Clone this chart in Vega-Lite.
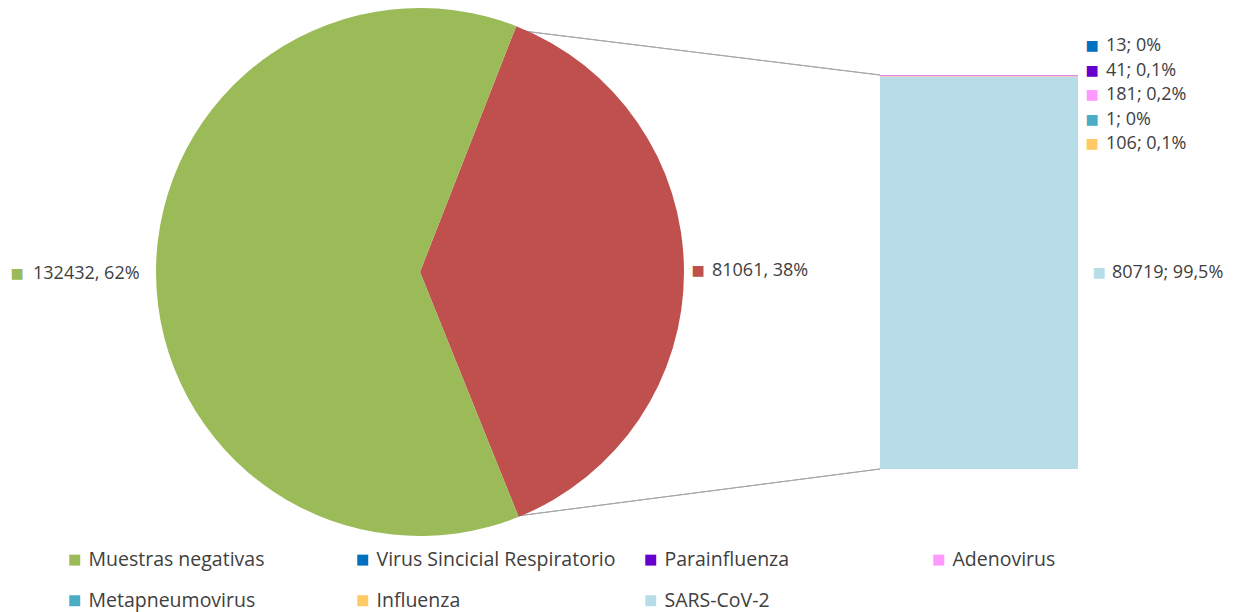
{
  "$schema": "https://vega.github.io/schema/vega-lite/v6.json",
  "width": 1233,
  "height": 612,
  "autosize": {"type": "fit", "contains": "padding"},
  "padding": 0,
  "background": "white",
  "config": {"view": {"stroke": null}, "font": "Open Sans"},
  "datasets": {
    "pastel": [
      {"categoria": "Positivas", "muestras": 81061, "orden": 1, "etiqueta": "81061, 38%"},
      {"categoria": "Muestras negativas", "muestras": 132432, "orden": 2, "etiqueta": "132432, 62%"}
    ],
    "barra": [
      {"grupo": "Positivas", "categoria": "SARS-CoV-2", "muestras": 80719, "orden": 1, "etiqueta": "80719; 99,5%"},
      {"grupo": "Positivas", "categoria": "Influenza", "muestras": 106, "orden": 2, "etiqueta": "106; 0,1%"},
      {"grupo": "Positivas", "categoria": "Metapneumovirus", "muestras": 1, "orden": 3, "etiqueta": "1; 0%"},
      {"grupo": "Positivas", "categoria": "Adenovirus", "muestras": 181, "orden": 4, "etiqueta": "181; 0,2%"},
      {"grupo": "Positivas", "categoria": "Parainfluenza", "muestras": 41, "orden": 5, "etiqueta": "41; 0,1%"},
      {"grupo": "Positivas", "categoria": "Virus Sincicial Respiratorio", "muestras": 13, "orden": 6, "etiqueta": "13; 0%"}
    ]
  },
  "layer": [
    {
      "data": {"name": "pastel"},
      "mark": {"type": "rule", "color": "#A6A6A6", "strokeWidth": 1},
      "encoding": {"x": {"value": 515}, "y": {"value": 30}, "x2": {"value": 880}, "y2": {"value": 75}}
    },
    {
      "data": {"name": "pastel"},
      "mark": {"type": "rule", "color": "#A6A6A6", "strokeWidth": 1},
      "encoding": {"x": {"value": 517}, "y": {"value": 516}, "x2": {"value": 880}, "y2": {"value": 469}}
    },
    {
      "data": {"name": "pastel"},
      "mark": {"type": "arc", "x": 420, "y": 272, "outerRadius": 264},
      "encoding": {
        "theta": {"field": "muestras", "type": "quantitative", "stack": true, "scale": {"range": [0.373, 6.656]}},
        "order": {"field": "orden", "type": "quantitative"},
        "color": {
          "field": "categoria",
          "type": "nominal",
          "scale": {
            "domain": ["Muestras negativas", "Virus Sincicial Respiratorio", "Parainfluenza", "Adenovirus", "Metapneumovirus", "Influenza", "SARS-CoV-2", "Positivas"],
            "range": ["#9BBB59", "#0070C0", "#6600CC", "#FF99FF", "#4BACC6", "#FFC965", "#B7DEE8", "#C0504D"]
          },
          "legend": {
            "orient": "none",
            "legendX": 65,
            "legendY": 550,
            "direction": "horizontal",
            "columns": 4,
            "gridAlign": "all",
            "title": null,
            "symbolType": "square",
            "symbolSize": 120,
            "symbolStrokeWidth": 0,
            "labelFontSize": 19.5,
            "labelFont": "Open Sans",
            "labelColor": "#404040",
            "labelLimit": 400,
            "labelOffset": 4,
            "columnPadding": 25,
            "rowPadding": 20,
            "values": ["Muestras negativas", "Virus Sincicial Respiratorio", "Parainfluenza", "Adenovirus", "Metapneumovirus", "Influenza", "SARS-CoV-2"]
          }
        }
      }
    },
    {
      "data": {"name": "barra"},
      "mark": {"type": "bar"},
      "encoding": {
        "x": {"field": "grupo", "type": "nominal", "axis": null, "scale": {"type": "band", "domain": ["Positivas"], "range": [880, 1078], "paddingInner": 0, "paddingOuter": 0}},
        "y": {"field": "muestras", "type": "quantitative", "stack": "zero", "axis": null, "scale": {"domain": [0, 81061], "range": [469, 75], "nice": false, "zero": true}},
        "order": {"field": "orden", "type": "quantitative"},
        "color": {"field": "categoria", "type": "nominal"}
      }
    },
    {
      "data": {"name": "pastel"},
      "mark": {"type": "text", "x": 420, "y": 272, "radius": 292, "align": "left", "baseline": "middle", "fontSize": 18, "color": "#404040"},
      "encoding": {
        "theta": {"field": "muestras", "type": "quantitative", "stack": true},
        "order": {"field": "orden", "type": "quantitative"},
        "text": {"condition": {"test": "datum.categoria === 'Positivas'", "field": "etiqueta"}, "value": ""}
      }
    },
    {
      "data": {"name": "pastel"},
      "mark": {"type": "text", "x": 420, "y": 272, "radius": 387, "align": "left", "baseline": "middle", "fontSize": 18, "color": "#404040"},
      "encoding": {
        "theta": {"field": "muestras", "type": "quantitative", "stack": true},
        "order": {"field": "orden", "type": "quantitative"},
        "text": {"condition": {"test": "datum.categoria === 'Muestras negativas'", "field": "etiqueta"}, "value": ""}
      }
    },
    {
      "data": {"name": "pastel"},
      "mark": {"type": "text", "x": 420, "y": 272, "radius": 278, "align": "center", "baseline": "middle", "fontSize": 14, "font": "DejaVu Sans"},
      "encoding": {
        "theta": {"field": "muestras", "type": "quantitative", "stack": true},
        "order": {"field": "orden", "type": "quantitative"},
        "color": {"field": "categoria", "type": "nominal"},
        "text": {"condition": {"test": "datum.categoria === 'Positivas'", "value": "■"}, "value": ""}
      }
    },
    {
      "data": {"name": "pastel"},
      "mark": {"type": "text", "x": 420, "y": 272, "radius": 403, "align": "center", "baseline": "middle", "fontSize": 14, "font": "DejaVu Sans"},
      "encoding": {
        "theta": {"field": "muestras", "type": "quantitative", "stack": true},
        "order": {"field": "orden", "type": "quantitative"},
        "color": {"field": "categoria", "type": "nominal"},
        "text": {"condition": {"test": "datum.categoria === 'Muestras negativas'", "value": "■"}, "value": ""}
      }
    },
    {
      "data": {"name": "barra"},
      "transform": [{"filter": "datum.categoria === 'SARS-CoV-2'"}],
      "layer": [
        {
          "mark": {"type": "text", "x": 1112, "align": "left", "baseline": "middle", "fontSize": 18, "color": "#404040"},
          "encoding": {
            "y": {"field": "muestras", "type": "quantitative", "stack": "zero", "bandPosition": 0.5, "axis": null, "scale": {"domain": [0, 80719], "range": [469, 77], "nice": false}},
            "text": {"field": "etiqueta"}
          }
        },
        {
          "mark": {"type": "text", "x": 1099, "align": "center", "baseline": "middle", "fontSize": 14, "font": "DejaVu Sans", "text": "■"},
          "encoding": {
            "y": {"field": "muestras", "type": "quantitative", "stack": "zero", "bandPosition": 0.5, "axis": null},
            "color": {"field": "categoria", "type": "nominal"}
          }
        }
      ]
    },
    {
      "data": {"name": "barra"},
      "transform": [{"filter": "datum.categoria !== 'SARS-CoV-2'"}],
      "layer": [
        {
          "mark": {"type": "text", "x": 1106, "align": "left", "baseline": "middle", "fontSize": 18, "color": "#404040"},
          "encoding": {
            "y": {"field": "categoria", "type": "nominal", "axis": null, "scale": {"type": "point", "padding": 0, "domain": ["Virus Sincicial Respiratorio", "Parainfluenza", "Adenovirus", "Metapneumovirus", "Influenza"], "range": [46, 144]}},
            "text": {"field": "etiqueta"}
          }
        },
        {
          "mark": {"type": "text", "x": 1092, "align": "center", "baseline": "middle", "fontSize": 14, "font": "DejaVu Sans", "text": "■"},
          "encoding": {
            "y": {"field": "categoria", "type": "nominal", "axis": null},
            "color": {"field": "categoria", "type": "nominal"}
          }
        }
      ]
    }
  ],
  "resolve": {"scale": {"y": "independent"}}
}
